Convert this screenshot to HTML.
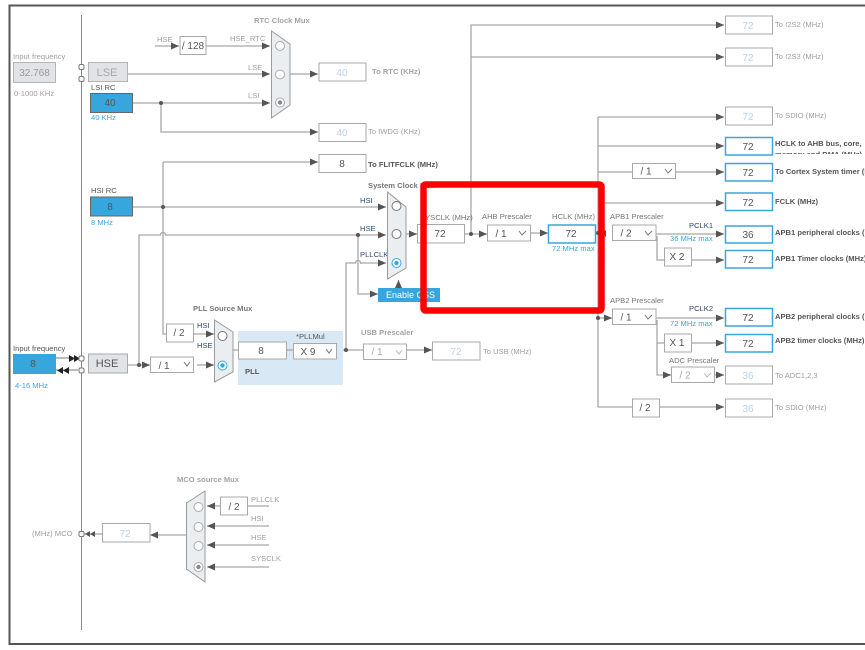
<!DOCTYPE html>
<html><head><meta charset="utf-8"><style>
html,body{margin:0;padding:0;background:#fff;width:865px;height:650px;overflow:hidden}
svg{display:block;filter:blur(0.3px)}
text{font-family:"Liberation Sans",sans-serif;font-size:7.6px;fill:#8a8a8a}
.d{fill:#555}.b{font-weight:bold;fill:#555}.g{fill:#a0a0a0}.gb{font-weight:bold;fill:#a3a3a3}.n{fill:#2f4a6d}
.bl{fill:#3aa6dc}.v{font-size:10px;text-anchor:middle;fill:#555}.vl{font-size:10px;text-anchor:middle;fill:#b9d2e8}
.l{stroke:#a8a8a8;stroke-width:1.3;fill:none}.la{stroke:#a8a8a8;stroke-width:1.3;fill:none;marker-end:url(#a)}
.dk{stroke:#777;stroke-width:1.1;fill:none}
.box{fill:#fff;stroke:#a8a8a8;stroke-width:1}.boxb{fill:#fff;stroke:#3aa6dc;stroke-width:1.5}
.blue{fill:#36a6dc;stroke:#666;stroke-width:1}.grey{fill:#e1e4e6;stroke:#b5b5b5;stroke-width:1}
.mux{fill:#ebeef0;stroke:#9a9a9a;stroke-width:1}.c{fill:#fff;stroke:#777;stroke-width:1}.cg{fill:#fff;stroke:#aaa;stroke-width:1}
.sm{fill:#fff;stroke:#777;stroke-width:1}.dot{fill:#555}
.chev{fill:none;stroke:#777;stroke-width:1}
</style></head><body>
<svg width="865" height="650" viewBox="0 0 865 650" xmlns="http://www.w3.org/2000/svg">
<defs>
<marker id="a" markerUnits="userSpaceOnUse" markerWidth="8" markerHeight="7" refX="8" refY="3.5" orient="auto"><path d="M0 0L8 3.5L0 7z" fill="#555"/></marker>
<clipPath id="hc"><rect x="770" y="130" width="95" height="24"/></clipPath>
</defs>

<!-- frame -->
<path d="M865 5.5H9.5V644H865" fill="none" stroke="#555" stroke-width="2"/>
<path d="M81.5 15V630" stroke="#888" stroke-width="1" fill="none"/>

<!-- connectors -->
<path class="la" d="M127 74H270"/>
<path class="la" d="M155 46H179"/>
<path class="la" d="M206 46H270"/>
<path class="la" d="M133 103H270"/>
<path class="la" d="M161 103V132H318"/>
<path class="la" d="M290 74H318"/>
<path class="la" d="M163 162H318"/>
<path class="la" d="M133 207H386"/>
<path class="l" d="M163 162V334H166"/>
<path class="la" d="M193 334H214"/>
<path class="la" d="M127 365H150"/>
<path class="la" d="M197 365H214"/>
<path class="l" d="M139 365V235H160.500A2.500 2.500 0 0 1 165.500 235H358"/>
<path class="la" d="M358 235H386"/>
<path class="la" d="M358 235V294H378"/>
<path class="l" d="M346 350V263H355.500A2.500 2.500 0 0 1 360.500 263H362"/>
<path class="la" d="M360 263H386"/>
<path class="la" d="M398.500 288V280"/>
<path class="la" d="M406 234H417"/>
<path class="la" d="M464 234H487"/>
<path class="la" d="M471 234V25H724"/>
<path class="la" d="M471 57H724"/>
<path class="la" d="M530 233H548"/>
<path class="l" d="M595 233H606"/>
<path class="la" d="M598 117H724"/>
<path class="l" d="M598 117V407"/>
<path class="la" d="M598 146H724"/>
<path class="l" d="M598 172H632"/>
<path class="la" d="M675 172H724"/>
<path class="la" d="M598 203H724"/>
<path class="la" d="M598 318H612"/>
<path class="la" d="M656 234H724"/>
<path class="l" d="M657 236V260H664"/>
<path class="la" d="M691 260H724"/>
<path class="la" d="M656 318H724"/>
<path class="l" d="M657 320V343H664"/>
<path class="la" d="M657 343V375H671"/>
<path class="la" d="M691 343H724"/>
<path class="la" d="M714 375H724"/>
<path class="l" d="M598 407H632"/>
<path class="la" d="M659 407H724"/>
<path class="l" d="M233 350H238M286 350H293"/>
<path class="l" d="M336 350H363"/>
<path class="la" d="M406 350H432"/>
<!-- MCO -->
<path class="la" d="M220 506H207"/>
<path class="l" d="M247 506H269"/>
<path class="la" d="M269 526H207"/>
<path class="la" d="M269 545H207"/>
<path class="la" d="M269 567H207"/>
<path class="la" d="M186 535H150"/>
<path class="l" d="M102 534H84"/>
<path d="M85 534L90 531L90 537zM90 534L95 531L95 537z" fill="#555"/>
<!-- input arrows -->
<path class="dk" d="M56 358H78"/>
<path class="dk" d="M56 370H78"/>
<path d="M69 355L75 358.500L69 362zM74 355L80 358.500L74 362zM63 370.500L69 367L69 374zM57 370.500L63 367L63 374z" fill="#222"/>

<!-- dots -->
<circle class="dot" cx="161" cy="103" r="2"/><circle class="dot" cx="163" cy="207" r="2"/>
<circle class="dot" cx="139" cy="365" r="2"/><circle class="dot" cx="358" cy="235" r="2"/>
<circle class="dot" cx="346" cy="350" r="2"/><circle class="dot" cx="471" cy="234" r="2"/>
<circle class="dot" cx="598" cy="233" r="2"/><circle class="dot" cx="598" cy="318" r="2"/>
<path d="M606 230L600 233.500L606 237z" fill="#555"/>

<!-- left ports -->
<rect class="sm" rx="1.500" x="79" y="64.500" width="5" height="5"/><rect class="sm" rx="1.500" x="79" y="76.500" width="5" height="5"/>
<rect class="sm" rx="1.500" x="79" y="356" width="5" height="5"/><rect class="sm" rx="1.500" x="79" y="368" width="5" height="5"/>
<rect class="sm" rx="1.500" x="79" y="531.500" width="5" height="5"/>

<!-- left sources -->
<text class="g" x="13" y="59">Input frequency</text>
<rect class="grey" x="13.500" y="62.500" width="42" height="20"/>
<text x="34.500" y="76" class="vl" style="fill:#999">32.768</text>
<text class="g" x="14" y="96">0-1000 KHz</text>
<rect class="grey" x="88.500" y="62.500" width="39" height="19"/>
<text x="107" y="76" style="font-size:11px;text-anchor:middle;fill:#a5a5a5">LSE</text>
<text class="d" x="91" y="90">LSI RC</text>
<rect class="blue" x="90.500" y="93.500" width="42" height="19"/>
<text class="v" x="110" y="106">40</text>
<text class="bl" x="91" y="120">40 KHz</text>
<text class="d" x="91" y="193">HSI RC</text>
<rect class="blue" x="90.500" y="197" width="42" height="19"/>
<text class="v" x="110" y="210">8</text>
<text class="bl" x="91" y="225">8 MHz</text>
<text class="d" x="13" y="351">Input frequency</text>
<rect class="blue" x="13" y="354" width="43" height="20" style="stroke:none"/>
<text class="v" x="33" y="367">8</text>
<text class="bl" x="15" y="388">4-16 MHz</text>
<rect class="grey" x="88.500" y="354" width="39" height="19" style="stroke:#aaa"/>
<text x="107" y="367" style="font-size:11px;text-anchor:middle;fill:#555">HSE</text>

<!-- RTC -->
<text class="g" x="157" y="42">HSE</text>
<rect class="box" x="180" y="36.500" width="26" height="18"/>
<text class="v" x="193" y="49">/ 128</text>
<text class="g" x="230" y="41">HSE_RTC</text>
<text class="g" x="248" y="70">LSE</text>
<text class="g" x="248" y="98">LSI</text>
<text class="gb" x="254" y="23">RTC Clock Mux</text>
<path class="mux" d="M271.500 31L290 44V105L271.500 118z"/>
<circle class="cg" cx="280" cy="46" r="4.500"/><circle class="cg" cx="280" cy="74.500" r="4.500"/><circle class="cg" cx="280" cy="102.500" r="4.500"/><circle cx="280" cy="102.500" r="2.200" fill="#888"/>
<rect class="box" x="319" y="63" width="47" height="18"/><text class="vl" x="342" y="76">40</text>
<text class="gb" x="372" y="74">To RTC (KHz)</text>
<rect class="box" x="319" y="123.500" width="47" height="18"/><text class="vl" x="342" y="136">40</text>
<text class="g" x="368" y="134">To IWDG (KHz)</text>
<rect class="box" x="319" y="154.500" width="47" height="18"/><text class="v" x="342" y="167">8</text>
<text class="b" x="368" y="167">To FLITFCLK (MHz)</text>

<!-- PLL -->
<rect x="238" y="331" width="105" height="54" fill="#d8e8f5"/>
<path class="l" d="M286 350H293"/>
<rect class="box" x="238.500" y="342" width="48" height="17"/><text class="v" x="261" y="354">8</text>
<rect class="box" x="293.500" y="343.500" width="43" height="15.500"/><text class="v" x="308" y="355">X 9</text><path class="chev" d="M326 349L329 353L332 349" />
<text class="d" x="296" y="339">*PLLMul</text>
<text class="b" x="245" y="374">PLL</text>
<text class="b" style="fill:#777" x="193" y="311">PLL Source Mux</text>
<path class="mux" d="M214.500 320L233 332V372L214.500 382z"/>
<circle class="c" cx="222.500" cy="336" r="4.500"/>
<circle cx="222.500" cy="365.500" r="4.500" fill="#fff" stroke="#3aa6dc"/><circle cx="222.500" cy="365.500" r="2.200" fill="#3aa6dc"/>
<rect class="box" x="166.500" y="324" width="27" height="18"/><text class="v" x="179" y="336">/ 2</text>
<text class="n" x="197" y="328">HSI</text><text class="n" x="197" y="348">HSE</text>
<rect class="box" x="150.500" y="357" width="43" height="15.500"/><text class="v" x="164" y="369">/ 1</text><path class="chev" d="M184 362L187 366L190 362"/>

<!-- USB -->
<text class="gb" x="361" y="335">USB Prescaler</text>
<rect class="box" x="363.500" y="344" width="43" height="15.500"/><text class="vl" style="fill:#aaa" x="377" y="355">/ 1</text><path class="chev" style="stroke:#bbb" d="M396 350L399 354L402 350"/>
<rect class="box" x="432.500" y="342" width="47.500" height="18"/><text class="vl" x="456" y="355">72</text>
<text class="g" x="483" y="354">To USB (MHz)</text>

<!-- system mux -->
<text class="b" style="fill:#777" x="368" y="188">System Clock Mux</text>
<text class="n" x="360" y="203">HSI</text><text class="n" x="360" y="231">HSE</text><text class="n" x="360" y="257">PLLCLK</text>
<path class="mux" d="M387.500 192L406 207V268L387.500 279z"/>
<circle class="c" cx="396.500" cy="206" r="4.500"/><circle class="c" cx="396.500" cy="234" r="4.500"/>
<circle cx="396.500" cy="263" r="4.500" fill="#fff" stroke="#3aa6dc"/><circle cx="396.500" cy="263" r="2.200" fill="#3aa6dc"/>
<rect x="378" y="288" width="62" height="14" fill="#36a6dc"/>
<text x="386" y="298" style="fill:#fff;font-size:9px">Enable CSS</text>

<!-- center -->
<text class="d" style="fill:#777" x="420" y="220">SYSCLK (MHz)</text>
<rect class="box" x="417.500" y="224.500" width="47" height="18.500"/><text class="v" x="440" y="237">72</text>
<text class="d" style="fill:#777" x="482" y="219">AHB Prescaler</text>
<rect class="box" x="487.500" y="225" width="43" height="16"/><text class="v" x="501" y="237">/ 1</text><path class="chev" d="M519 231L522 235L526 231"/>
<text class="d" style="fill:#777" x="552" y="219">HCLK (MHz)</text>
<rect class="boxb" x="548.500" y="225" width="47" height="18"/><text class="v" x="571" y="237">72</text>
<text class="bl" x="552" y="251">72 MHz max</text>

<!-- right prescalers -->
<rect class="box" x="632.500" y="163.500" width="43" height="15"/><text class="v" x="646" y="174.500">/ 1</text><path class="chev" d="M665 169L668 173L672 169"/>
<text class="d" style="fill:#777" x="610" y="219">APB1 Prescaler</text>
<rect class="box" x="612.500" y="225" width="43.500" height="15.500"/><text class="v" x="626" y="236.500">/ 2</text><path class="chev" d="M645 231L648 235L652 231"/>
<text class="n" x="689" y="228">PCLK1</text><text class="bl" x="670" y="241">36 MHz max</text>
<rect class="box" x="664.500" y="248" width="27" height="18"/><text class="v" x="677" y="260">X 2</text>
<text class="d" style="fill:#777" x="610" y="303">APB2 Prescaler</text>
<rect class="box" x="612.500" y="309" width="43.500" height="15.500"/><text class="v" x="626" y="320.500">/ 1</text><path class="chev" d="M645 315L648 319L652 315"/>
<text class="n" x="689" y="311">PCLK2</text><text class="bl" x="670" y="326">72 MHz max</text>
<rect class="box" x="664.500" y="334" width="27" height="18"/><text class="v" x="677" y="346">X 1</text>
<text class="d" style="fill:#777" x="669" y="363">ADC Prescaler</text>
<rect class="box" x="671.500" y="367" width="43" height="15.500"/><text class="vl" style="fill:#aaa" x="685" y="378.500">/ 2</text><path class="chev" style="stroke:#bbb" d="M704 373L707 377L711 373"/>
<rect class="box" x="632.500" y="399" width="27" height="18"/><text class="v" x="645" y="411">/ 2</text>

<!-- right outputs -->
<rect class="box" x="725.500" y="16" width="47" height="18"/><text class="vl" x="748" y="29">72</text><text class="g" x="775" y="27">To I2S2 (MHz)</text>
<rect class="box" x="725.500" y="48" width="47" height="18"/><text class="vl" x="748" y="61">72</text><text class="g" x="775" y="59">To I2S3 (MHz)</text>
<rect class="box" x="725.500" y="107" width="47" height="18"/><text class="vl" x="748" y="120">72</text><text class="g" x="775" y="118">To SDIO (MHz)</text>
<rect class="boxb" x="725.500" y="137.500" width="47" height="17.500"/><text class="v" x="748" y="150">72</text><text class="b" x="775" y="146">HCLK to AHB bus, core,</text>
<text class="b" x="775" y="157" clip-path="url(#hc)">memory and DMA (MHz)</text>
<rect class="boxb" x="725.500" y="163.500" width="47" height="17.500"/><text class="v" x="748" y="176">72</text><text class="b" x="775" y="174">To Cortex System timer (MHz)</text>
<rect class="boxb" x="725.500" y="193" width="47" height="17.500"/><text class="v" x="748" y="206">72</text><text class="b" x="775" y="204">FCLK (MHz)</text>
<rect class="boxb" x="725.500" y="226" width="47" height="17"/><text class="v" x="748" y="238">36</text><text class="b" x="775" y="235">APB1 peripheral clocks (MHz)</text>
<rect class="boxb" x="725.500" y="250.500" width="47" height="17.500"/><text class="v" x="748" y="263">72</text><text class="b" x="775" y="261">APB1 Timer clocks (MHz)</text>
<rect class="boxb" x="725.500" y="308.500" width="47" height="17.500"/><text class="v" x="748" y="321">72</text><text class="b" x="775" y="319">APB2 peripheral clocks (MHz)</text>
<rect class="boxb" x="725.500" y="334.500" width="47" height="17.500"/><text class="v" x="748" y="347">72</text><text class="b" x="775" y="343">APB2 timer clocks (MHz)</text>
<rect class="box" x="725.500" y="366" width="47" height="18"/><text class="vl" x="748" y="379">36</text><text class="g" x="775" y="378">To ADC1,2,3</text>
<rect class="box" x="725.500" y="399" width="47" height="18"/><text class="vl" x="748" y="412">36</text><text class="g" x="775" y="410">To SDIO (MHz)</text>

<!-- MCO -->
<text class="gb" x="177" y="482">MCO source Mux</text>
<path class="mux" d="M186.500 503L205 491V582L186.500 569z"/>
<circle class="cg" cx="198.500" cy="507" r="4.500"/><circle class="cg" cx="198.500" cy="527" r="4.500"/><circle class="cg" cx="198.500" cy="546" r="4.500"/><circle class="cg" cx="198.500" cy="567" r="4.500"/><circle cx="198.500" cy="567" r="2.200" fill="#888"/>
<rect class="box" x="220.500" y="497" width="27" height="18"/><text class="v" x="234" y="510">/ 2</text>
<text class="g" x="251" y="502">PLLCLK</text><text class="g" x="251" y="521">HSI</text><text class="g" x="251" y="540">HSE</text><text class="g" x="251" y="561">SYSCLK</text>
<rect class="box" x="102.500" y="523.500" width="47.500" height="18.500"/><text class="vl" x="125" y="537">72</text>
<text class="g" x="32" y="536">(MHz) MCO</text>

<!-- highlight -->
<rect x="423.500" y="184.500" width="178" height="126" rx="2" fill="none" stroke="#fe0000" stroke-width="6.500"/>
</svg>
</body></html>
